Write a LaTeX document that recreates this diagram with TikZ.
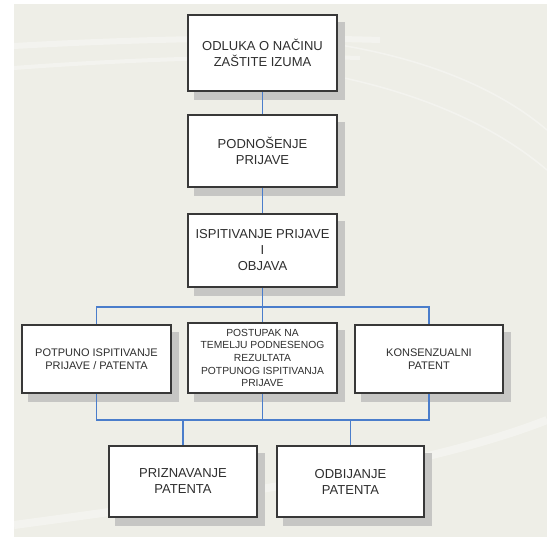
\documentclass[tikz,border=0pt]{standalone}
\usepackage{fontspec}
\setmainfont{Liberation Sans}
\pgfdeclarelayer{back}
\pgfsetlayers{back,main}
\definecolor{bgc}{HTML}{EEEEE7}
\definecolor{linkc}{HTML}{4A7DCB}
\definecolor{edgec}{HTML}{383838}
\definecolor{shadc}{HTML}{C6C6C4}
\definecolor{txtc}{HTML}{2E2E2E}
\tikzset{
  box/.style={draw=edgec, line width=2.2pt, fill=white, align=center,
    inner sep=2pt, text=txtc},
  big/.style={font=\fontsize{13}{16}\selectfont},
  mid/.style={font=\fontsize{11}{13.5}\selectfont},
  small/.style={font=\fontsize{10.3}{12.6}\selectfont},
  link/.style={draw=linkc, line width=1.5pt},
  swirl/.style={draw=white, opacity=0.35, line width=#1},
  shadowbox/.style={fill=shadc}
}
\newcommand{\boxshadow}[1]{%
  \fill[shadowbox] ([shift={(7,8)}]#1.south west) rectangle ([shift={(7,8)}]#1.north east);}
\begin{document}
\begin{tikzpicture}[x=1pt,y=-1pt]
\useasboundingbox (0,0) rectangle (547,540);

\node[box, big, minimum width=149pt, minimum height=76pt] (b1) at (262.5,53) {ODLUKA O NAČINU\\ZAŠTITE IZUMA};
\node[box, big, minimum width=149pt, minimum height=72pt] (b2) at (262.5,151) {PODNOŠENJE\\PRIJAVE};
\node[box, big, minimum width=149pt, minimum height=73pt] (b3) at (262.5,250.5) {ISPITIVANJE PRIJAVE\\I\\OBJAVA};

\node[box, mid, minimum width=149pt, minimum height=68pt] (r1) at (96.5,359) {POTPUNO ISPITIVANJE\\PRIJAVE / PATENTA};
\node[box, small, minimum width=149pt, minimum height=70pt] (r2) at (262.5,358) {POSTUPAK NA\\TEMELJU PODNESENOG\\REZULTATA\\POTPUNOG ISPITIVANJA\\PRIJAVE};
\node[box, mid, minimum width=148pt, minimum height=68pt] (r3) at (429,359) {KONSENZUALNI\\PATENT};

\node[box, big, minimum width=148pt, minimum height=71pt] (s1) at (183,481.5) {PRIZNAVANJE\\PATENTA};
\node[box, big, minimum width=147pt, minimum height=71pt] (s2) at (350.5,481.5) {ODBIJANJE\\PATENTA};

\begin{pgfonlayer}{back}
\fill[bgc] (14,4) rectangle (547,537);
\begin{scope}
\clip (14,4) rectangle (547,537);
\draw[swirl=6pt] (14,46) .. controls (120,40) and (250,36) .. (380,40);
\draw[swirl=4pt] (14,68) .. controls (120,60) and (250,55) .. (360,58);
\draw[swirl=1.5pt] (340,45) .. controls (430,60) and (500,90) .. (547,130);
\draw[swirl=1.5pt] (330,75) .. controls (430,95) and (500,130) .. (547,170);
\draw[swirl=8pt] (14,525) .. controls (200,500) and (420,470) .. (547,420);
\end{scope}
\boxshadow{b1}\boxshadow{b2}\boxshadow{b3}
\boxshadow{r1}\boxshadow{r2}\boxshadow{r3}
\boxshadow{s1}\boxshadow{s2}
\end{pgfonlayer}

\coordinate (j1) at (262.5,307);
\coordinate (j2) at (262.5,420);

\draw[link] (b1.south) -- (b2.north);
\draw[link] (b2.south) -- (b3.north);
\draw[link] (b3.south) -- (r2.north);
\draw[link] (r1.north) |- (j1) -| (r3.north);
\draw[link] (r1.south) |- (j2) -| (r3.south);
\draw[link] (r2.south) -- (j2);
\draw[link] (s1.north) |- (j2);
\draw[link] (s2.north) |- (j2);
\end{tikzpicture}
\end{document}
